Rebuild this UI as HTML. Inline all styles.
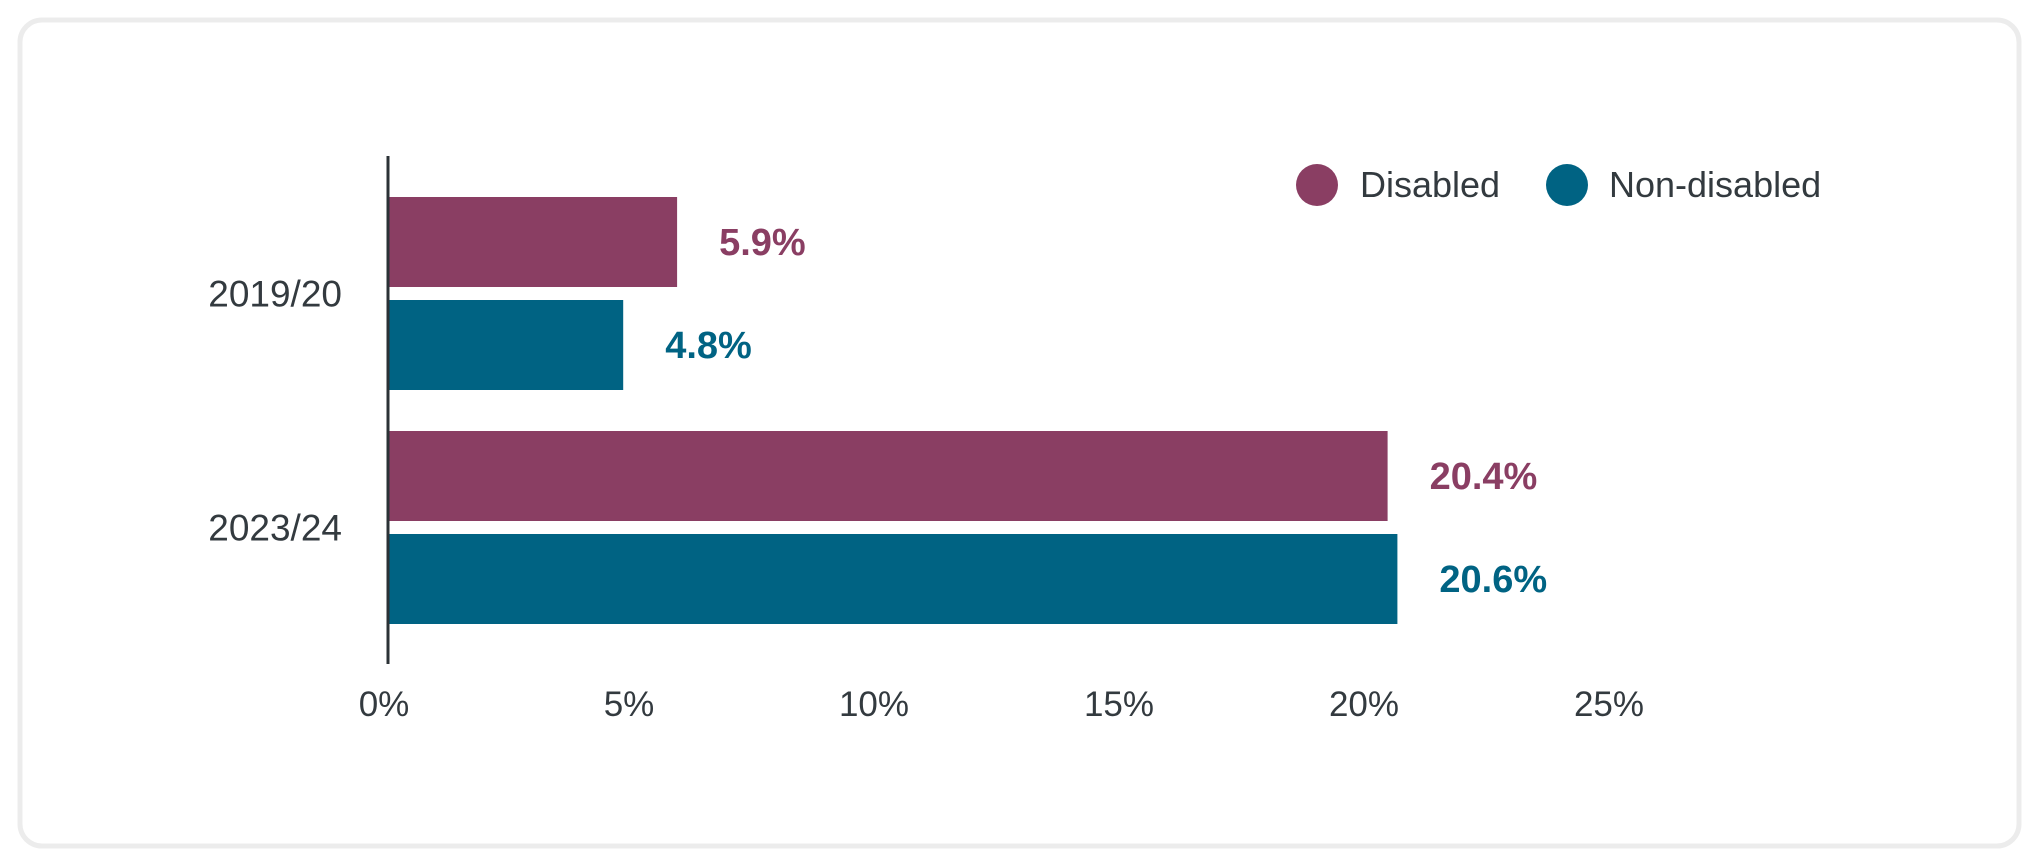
<!DOCTYPE html>
<html><head><meta charset="utf-8"><style>
html,body{margin:0;padding:0;background:#fff;width:2040px;height:867px;overflow:hidden}
svg{display:block;font-family:"Liberation Sans",sans-serif}
</style></head><body>
<svg id="chart" width="2040" height="867">
<rect x="20" y="20" width="1999" height="826" rx="22" fill="#fff" stroke="#ececec" stroke-width="5"/>
<g id="legend">
<g><circle cx="1317" cy="185" r="21" fill="#8a3e63"/><text x="1360" y="197" font-size="36" fill="#333a3f">Disabled</text></g>
<g><circle cx="1567" cy="185" r="21" fill="#006383"/><text x="1609" y="197" font-size="36" fill="#333a3f">Non-disabled</text></g>
</g>
<g id="bars"></g>
<line x1="388" y1="156" x2="388" y2="664" stroke="#2b3236" stroke-width="3"/>
<g id="ticks"></g>
</svg>
<script>
const categories = ["2019/20", "2023/24"];
const disabled = [5.9, 20.4];
const nonDisabled = [4.8, 20.6];
const tickValues = [0, 5, 10, 15, 20, 25];
const tickLabels = ["0%", "5%", "10%", "15%", "20%", "25%"];

const NS = "http://www.w3.org/2000/svg";
const x = v => 388 + 49 * v;
const groupTop = [197, 431];
const barH = 90, barGap = 13;
const bars = document.getElementById("bars");
const ticks = document.getElementById("ticks");
function mk(tag, attrs, parent) {
  const e = document.createElementNS(NS, tag);
  for (const k in attrs) e.setAttribute(k, attrs[k]);
  parent.appendChild(e);
  return e;
}
const series = [{vals: disabled, color: "#8a3e63", key: "disabled"}, {vals: nonDisabled, color: "#006383", key: "non-disabled"}];
categories.forEach((c, i) => {
  const yTop = groupTop[i];
  const lbl = mk("text", {x: 342, y: yTop + barH + barGap / 2 + 13, "text-anchor": "end", "font-size": 37, fill: "#333a3f"}, bars);
  
  
  lbl.textContent = c;
  series.forEach((s, j) => {
    const y = yTop + j * (barH + barGap);
    const r = mk("rect", {x: x(0), y: y, width: x(s.vals[i]) - x(0), height: barH, fill: s.color}, bars);
    
    
    const t = mk("text", {x: x(s.vals[i]) + 42, y: y + barH / 2 + 13, "font-size": 38, "font-weight": "bold", fill: s.color}, bars);
    
    
    t.textContent = s.vals[i].toFixed(1) + "%";
  });
});
tickValues.forEach((v, i) => {
  const t = mk("text", {x: x(v) - 4, y: 716, "text-anchor": "middle", "font-size": 35, fill: "#333a3f"}, ticks);
  
  
  t.textContent = tickLabels[i];
});
</script>
</body></html>
